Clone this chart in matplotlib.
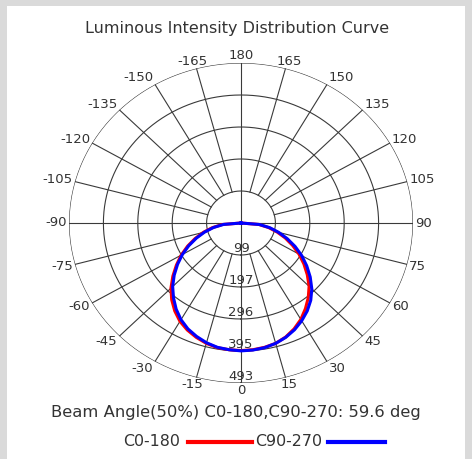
import numpy as np
import matplotlib
matplotlib.use("Agg")
import matplotlib.pyplot as plt
from matplotlib.lines import Line2D
from matplotlib.patches import Rectangle

# gamma angles (deg), 0 = straight down
angles = list(range(-90, 91, 5))

# intensity (cd)
c0_180 = [0, 54, 84, 112, 140, 169, 198, 226, 255, 284, 309, 331, 350, 364, 375, 384, 390, 392,
          393,
          392, 389, 384, 374, 360, 343, 322, 300, 276, 248, 220, 192, 163, 135, 107, 80, 51, 0]
c90_270 = [0, 50, 80, 108, 136, 165, 194, 222, 250, 277, 301, 324, 344, 360, 372, 382, 389, 392,
           394,
           393, 390, 384, 375, 363, 348, 331, 311, 287, 259, 230, 201, 171, 141, 112, 84, 53, 0]

ring_values = [98.6, 197.2, 295.8, 394.4, 493.0]
ring_labels = ["99", "197", "296", "395", "493"]
spoke_angles = list(range(-165, 181, 15))

r_max = ring_values[-1]
grid_color = "#3a3a3a"
text_color = "#333333"

fig = plt.figure(figsize=(4.72, 4.59), dpi=100, facecolor="#dadada")
# white panel
fig.patches.append(Rectangle((7 / 472, 0), 458 / 472, 453 / 459, transform=fig.transFigure,
                             facecolor="white", edgecolor="none", zorder=-1))

ax = fig.add_axes([69 / 472, 76 / 459, 344 / 472, 320 / 459], projection="polar")
ax.set_aspect("auto")
ax.set_theta_zero_location("S")
ax.set_theta_direction(1)
ax.set_ylim(0, r_max)
ax.set_axis_off()

# grid circles
t = np.linspace(0, 2 * np.pi, 721)
for r in ring_values:
    ax.plot(t, np.full_like(t, r), color=grid_color, lw=0.8, zorder=1)

# spokes from first ring outward, main axes through centre
for a in spoke_angles:
    th = np.radians(a)
    r0 = 0 if a % 90 == 0 else ring_values[0]
    ax.plot([th, th], [r0, r_max], color=grid_color, lw=0.8, zorder=1)

# curves
ax.plot(np.radians(angles), c0_180, color="#ff0000", lw=2.2, zorder=3)
ax.plot(np.radians(angles), c90_270, color="#0000ff", lw=2.2, zorder=4)

# ring labels along the 0 axis
for r, lab in zip(ring_values, ring_labels):
    ax.text(0, r, lab, ha="center", va="bottom", fontsize=9.5, color=text_color, zorder=5)

# angle labels
for a in spoke_angles:
    th = np.radians(a)
    s, c = np.sin(th), np.cos(th)
    dy = -c * 7.5
    if abs(s) < 0.01:
        ha, dx = "center", 0
    elif abs(s) < 0.3:
        ha, dx = "center", 4 * np.sign(s)
    elif s > 0:
        ha, dx = "left", 2
    else:
        ha, dx = "right", -2
    ax.annotate(str(a), xy=(th, r_max), xytext=(dx, dy), textcoords="offset pixels",
                ha=ha, va="center", fontsize=9.5, color=text_color, annotation_clip=False)

fig.text(237 / 472, 1 - 28 / 459, "Luminous Intensity Distribution Curve",
         ha="center", va="center", fontsize=11.5, color=text_color)
fig.text(236 / 472, 1 - 413 / 459, "Beam Angle(50%) C0-180,C90-270: 59.6 deg",
         ha="center", va="center", fontsize=11.8, color=text_color)

# legend row
ly = 1 - 442 / 459
fig.text(180 / 472, ly, "C0-180", ha="right", va="center", fontsize=11.4, color=text_color)
fig.lines.append(Line2D([188 / 472, 252 / 472], [ly, ly], transform=fig.transFigure,
                        color="#ff0000", lw=3))
fig.text(255 / 472, ly, "C90-270", ha="left", va="center", fontsize=11.4, color=text_color)
fig.lines.append(Line2D([328 / 472, 385 / 472], [ly, ly], transform=fig.transFigure,
                        color="#0000ff", lw=3))

fig.savefig("out.png", dpi=100, facecolor=fig.get_facecolor())
